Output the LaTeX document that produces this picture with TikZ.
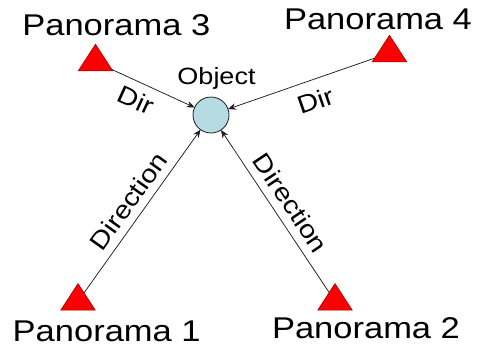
\documentclass[tikz,border=0pt]{standalone}
\usepackage{fontspec}
\setmainfont{Liberation Sans}[FakeStretch=1.15]
\usetikzlibrary{shapes.geometric,arrows.meta}
\definecolor{objfill}{RGB}{180,220,226}
\definecolor{trired}{RGB}{250,0,0}
\definecolor{tribord}{RGB}{150,0,0}
\definecolor{linecol}{RGB}{30,30,30}
\begin{document}
\begin{tikzpicture}[x=1pt,y=-1pt,
  pano/.style={regular polygon, regular polygon sides=3, minimum size=40pt, inner sep=0pt, outer sep=0pt, fill=trired, draw=tribord, line width=0.5pt, yscale=0.89, transform shape},
  objc/.style={circle, minimum size=36pt, inner sep=0pt, outer sep=0pt, fill=objfill, draw=linecol, line width=0.8pt},
  conn/.style={draw=linecol, line width=0.75pt, -{Stealth[length=8pt,width=6.5pt]}},
  big/.style={font=\fontsize{30}{30}\selectfont, anchor=base, inner sep=0pt},
  lab/.style={font=\fontsize{25}{25}\selectfont, inner sep=0pt, sloped}
]
\useasboundingbox (0,0) rectangle (479,351);
\node[objc] (obj) at (211,115) {};
\node[font=\fontsize{23.5}{23.5}\selectfont, anchor=base, inner sep=0pt] (objlabel) at (216.5,84) {Object};
\node[pano] (p1) at (78,301.3) {};
\node[pano] (p2) at (335,301.3) {};
\node[pano] (p3) at (95.5,62) {};
\node[pano] (p4) at (389.5,53) {};
\node[big] (t1) at (106.7,341.7) {Panorama 1};
\node[big] (t2) at (366,338) {Panorama 2};
\node[big] (t3) at (116.3,35) {Panorama 3};
\node[big] (t4) at (378,29.5) {Panorama 4};
\draw[conn] (p1) -- node[lab, pos=0.5, above=7.5pt] (d1) {Direction} (obj);
\draw[conn] (p2) -- node[lab, pos=0.49, above=8pt] (d2) {Direction} (obj);
\draw[conn] (p3) -- node[lab, pos=0.38, below=8pt] (d3) {Dir} (obj);
\draw[conn] (p4) -- node[lab, pos=0.45, below=11pt] (d4) {Dir} (obj);
\end{tikzpicture}
\end{document}
